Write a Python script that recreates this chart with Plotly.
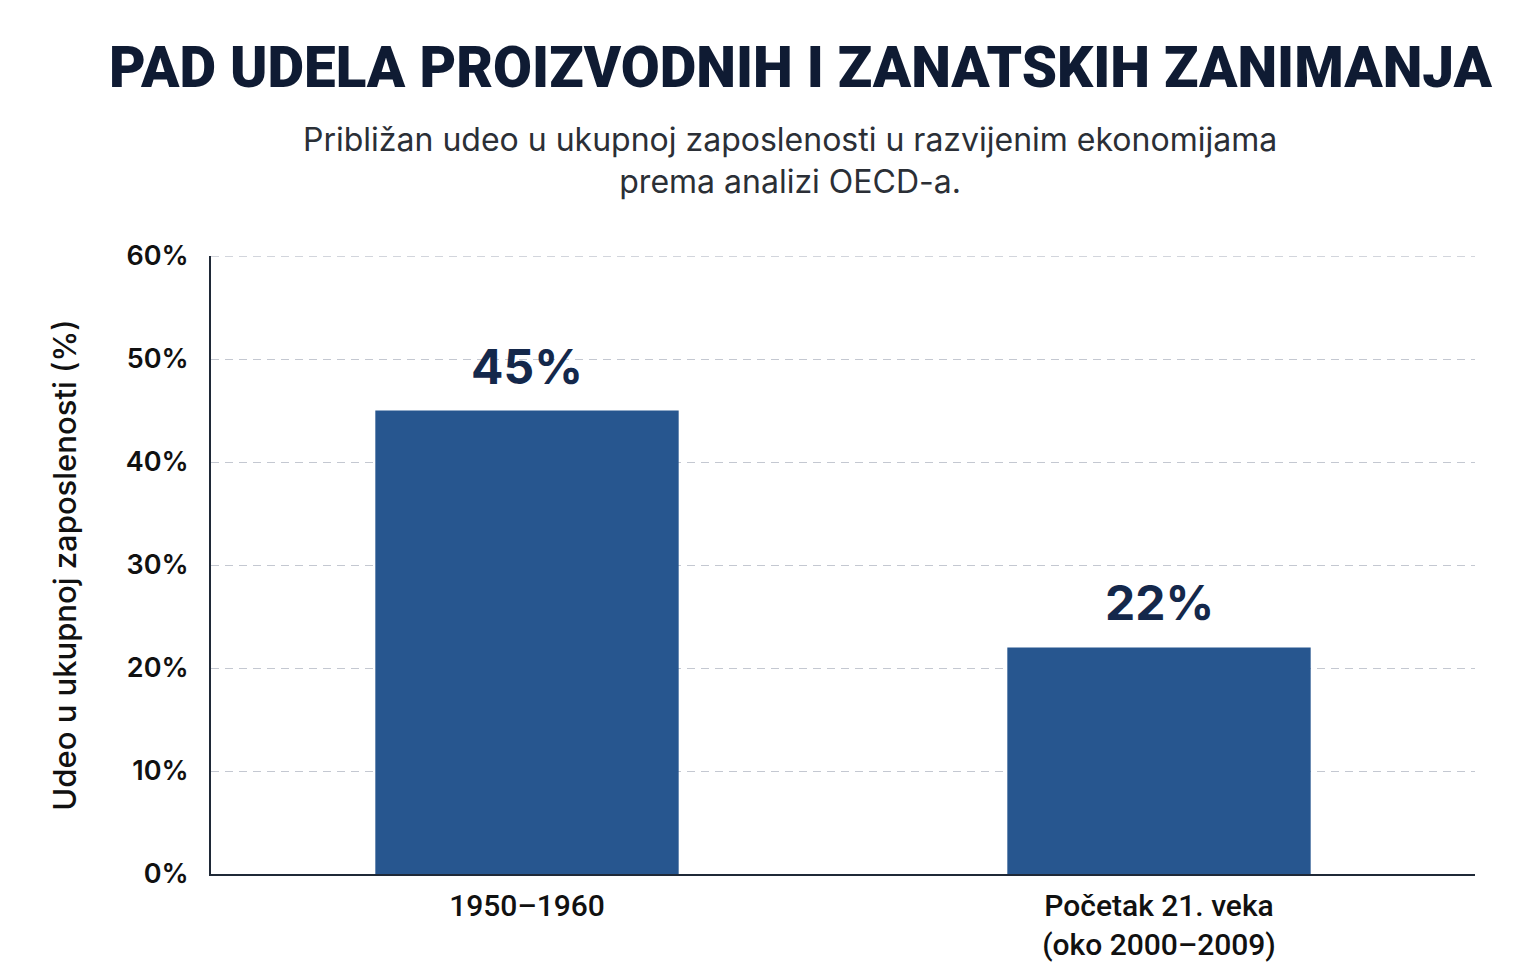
import plotly.graph_objects as go

categories = ["1950–1960", "Početak 21. veka<br>(oko 2000–2009)"]
values = [45, 22]
value_labels = ["45%", "22%"]
y_ticks = [0, 10, 20, 30, 40, 50, 60]
y_tick_labels = ["0%", "10%", "20%", "30%", "40%", "50%", "60%"]

title_text = "PAD UDELA PROIZVODNIH I ZANATSKIH ZANIMANJA"
subtitle_text = "Približan udeo u ukupnoj zaposlenosti u razvijenim ekonomijama<br>prema analizi OECD-a."
y_title = "Udeo u ukupnoj zaposlenosti (%)"

bar_color = "#27568f"
navy = "#14284b"

fig = go.Figure(
    go.Bar(
        x=categories,
        y=values,
        marker=dict(color=bar_color, line=dict(width=0)),
        hoverinfo="skip",
    )
)

for cat, val, lab in zip(categories, values, value_labels):
    fig.add_annotation(
        x=cat, y=val, text=lab, showarrow=False,
        yanchor="bottom", yshift=13,
        font=dict(family="Inter, Roboto, sans-serif", size=48, color=navy, weight=700),
    )

fig.add_annotation(
    xref="paper", yref="paper", x=0.466, y=1.304,
    text=title_text, showarrow=False, xanchor="center", yanchor="middle",
    font=dict(family="Roboto, sans-serif", size=56.5, color="#0f1b33", weight=900),
)
fig.add_annotation(
    xref="paper", yref="paper", x=0.458, y=1.155,
    text=subtitle_text, showarrow=False, xanchor="center", yanchor="middle",
    font=dict(family="Inter, Roboto, sans-serif", size=32, color="#2b2f36"),
)

# dashed line at the top of the range (gridline there is not drawn)
fig.add_hline(y=60, line=dict(color="#c4c8d1", width=1.3, dash="8px,6px"), layer="below")

# the page has an 8px body margin, so the figure is a bit smaller than the window
fig.update_layout(
    width=1528, height=955,
    margin=dict(l=203, r=61, t=248, b=89, autoexpand=False),
    paper_bgcolor="white", plot_bgcolor="white",
    bargap=0.52,
    showlegend=False,
)

fig.update_xaxes(
    showline=True, linecolor="#1f2937", linewidth=2,
    showgrid=False, ticks="", automargin=False,
    tickfont=dict(family="Roboto, sans-serif", size=30, color="#111111", weight=500),
    ticklabelstandoff=4,
)
fig.update_yaxes(
    range=[0, 60], tickvals=y_ticks, ticktext=y_tick_labels,
    showline=True, linecolor="#1f2937", linewidth=2,
    showgrid=True, gridcolor="#c4c8d1", gridwidth=1.3, griddash="8px,6px",
    zeroline=False, ticks="", automargin=False,
    tickfont=dict(family="Inter, Roboto, sans-serif", size=27, color="#111111", weight=600),
    ticklabelstandoff=15,
    title=dict(text=y_title, standoff=40,
               font=dict(family="Inter, Roboto, sans-serif", size=31, color="#111111", weight=500)),
)

fig.write_html("out.html")
